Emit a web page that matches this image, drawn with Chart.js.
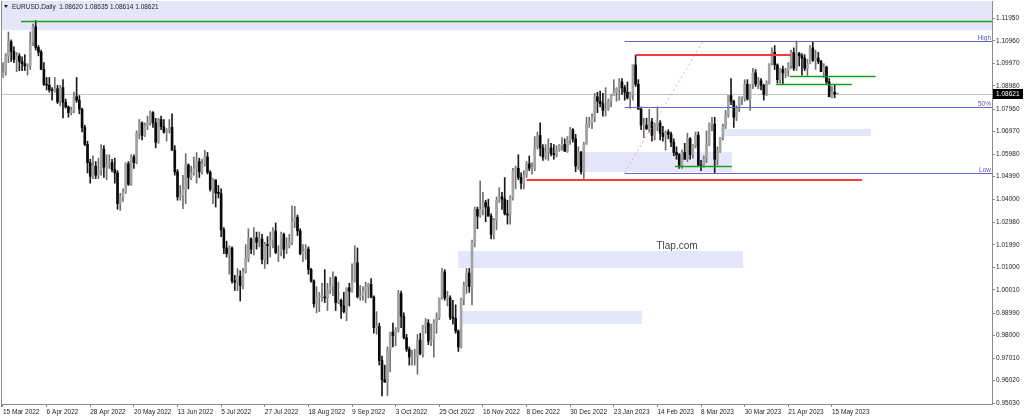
<!DOCTYPE html>
<html>
<head>
<meta charset="utf-8">
<script src="https://cdn.jsdelivr.net/npm/chart.js@4/dist/chart.umd.min.js"></script>
<style>
  html, body { margin: 0; padding: 0; background: #fff; }
</style>
</head>
<body>
<canvas id="chart" width="1024" height="418"></canvas>
<script>
// EURUSD daily, one bar per weekday from 15 Mar 2022 (index 0) to 17 May 2023
const opens = [
  1.0940,1.0955,1.1030,1.1092,1.1050,1.1015,1.1030,1.1005,1.0995,1.0985,
  1.0985,1.1090,1.1158,1.1067,1.1046,1.0970,1.0905,1.0901,1.0880,1.0877,
  1.0885,1.0827,1.0890,1.0825,1.0805,1.0780,1.0790,1.0850,1.0835,1.0795,
  1.0715,1.0640,1.0560,1.0500,1.0545,1.0505,1.0525,1.0620,1.0540,1.0550,
  1.0560,1.0530,1.0515,1.0380,1.0410,1.0435,1.0555,1.0465,1.0585,1.0560,
  1.0690,1.0735,1.0680,1.0725,1.0735,1.0780,1.0735,1.0650,1.0750,1.0718,
  1.0695,1.0705,1.0715,1.0615,1.0520,1.0410,1.0415,1.0445,1.0550,1.0495,
  1.0515,1.0535,1.0565,1.0520,1.0555,1.0585,1.0518,1.0443,1.0484,1.0427,
  1.0425,1.0265,1.0185,1.0160,1.0185,1.0040,1.0035,1.0060,1.0020,1.0080,
  1.0140,1.0225,1.0180,1.0230,1.0210,1.0225,1.0135,1.0200,1.0195,1.0220,
  1.0260,1.0165,1.0170,1.0245,1.0180,1.0195,1.0210,1.0300,1.0320,1.0260,
  1.0160,1.0170,1.0180,1.0090,1.0040,0.9940,0.9970,0.9970,0.9970,0.9965,
  1.0000,1.0015,1.0055,0.9945,0.9955,0.9930,0.9905,1.0010,0.9995,1.0040,
  1.0120,0.9970,0.9975,0.9995,1.0015,1.0025,0.9970,0.9835,0.9840,0.9690,
  0.9605,0.9595,0.9735,0.9815,0.9800,0.9825,0.9985,0.9885,0.9790,0.9740,
  0.9705,0.9705,0.9705,0.9780,0.9720,0.9840,0.9855,0.9775,0.9780,0.9860,
  0.9880,0.9965,1.0080,0.9965,0.9965,0.9880,0.9875,0.9820,0.9750,0.9960,
  1.0020,1.0075,1.0015,1.0210,1.0355,1.0325,1.0355,1.0385,1.0365,1.0325,
  1.0245,1.0305,1.0395,1.0410,1.0400,1.0335,1.0330,1.0405,1.0525,1.0535,
  1.0495,1.0470,1.0505,1.0555,1.0535,1.0535,1.0630,1.0680,1.0625,1.0585,
  1.0605,1.0625,1.0600,1.0595,1.0615,1.0635,1.0640,1.0610,1.0660,1.0705,
  1.0665,1.0545,1.0605,1.0520,1.0645,1.0730,1.0735,1.0760,1.0850,1.0830,
  1.0820,1.0790,1.0795,1.0830,1.0855,1.0870,1.0885,1.0915,1.0890,1.0870,
  1.0845,1.0860,1.0990,1.0905,1.0795,1.0725,1.0725,1.0710,1.0740,1.0680,
  1.0725,1.0735,1.0690,1.0675,1.0695,1.0685,1.0650,1.0605,1.0595,1.0545,
  1.0605,1.0575,1.0665,1.0595,1.0635,1.0680,1.0550,1.0545,1.0580,1.0640,
  1.0730,1.0730,1.0575,1.0610,1.0670,1.0720,1.0770,1.0855,1.0830,1.0760,
  1.0800,1.0845,1.0845,1.0905,1.0840,1.0905,1.0955,1.0905,1.0920,1.0900,
  1.0860,1.0910,1.0995,1.1045,1.0990,1.0925,1.0970,1.0955,1.0965,1.0990,
  1.1045,1.0975,1.1040,1.1030,1.1020,1.0975,1.0995,1.1065,1.1010,1.1020,
  1.1005,1.0960,1.0980,1.0915,1.0850,1.0870,1.08620
];
const highs = [
  1.1000,1.1040,1.1135,1.1100,1.1070,1.1045,1.1040,1.1025,1.1035,1.0995,
  1.1135,1.1170,1.1185,1.1075,1.1055,1.1000,1.0935,1.0935,1.0890,1.0935,
  1.0900,1.0900,1.0925,1.0840,1.0810,1.0805,1.0870,1.0935,1.0855,1.0800,
  1.0725,1.0655,1.0575,1.0590,1.0565,1.0580,1.0640,1.0635,1.0595,1.0595,
  1.0575,1.0580,1.0525,1.0425,1.0445,1.0560,1.0565,1.0595,1.0595,1.0700,
  1.0750,1.0740,1.0735,1.0765,1.0787,1.0785,1.0755,1.0755,1.0765,1.0750,
  1.0710,1.0750,1.0775,1.0635,1.0530,1.0460,1.0505,1.0600,1.0555,1.0545,
  1.0585,1.0605,1.0580,1.0575,1.0615,1.0605,1.0525,1.0490,1.0485,1.0460,
  1.0445,1.0275,1.0215,1.0195,1.0190,1.0065,1.0095,1.0085,1.0095,1.0200,
  1.0270,1.0230,1.0275,1.0255,1.0255,1.0245,1.0210,1.0235,1.0255,1.0275,
  1.0295,1.0195,1.0255,1.0250,1.0230,1.0245,1.0370,1.0368,1.0330,1.0270,
  1.0200,1.0200,1.0190,1.0095,1.0045,1.0015,0.9990,1.0030,1.0090,1.0030,
  1.0055,1.0080,1.0060,1.0035,0.9960,0.9990,1.0010,1.0030,1.0115,1.0195,
  1.0185,1.0020,1.0015,1.0035,1.0030,1.0050,0.9975,0.9905,0.9855,0.9710,
  0.9670,0.9750,0.9815,0.9855,0.9835,0.9999,0.9995,0.9900,0.9805,0.9750,
  0.9735,0.9740,0.9805,0.9810,0.9845,0.9875,0.9870,0.9850,0.9870,0.9900,
  0.9965,1.0095,1.0090,0.9995,0.9975,0.9955,0.9935,0.9825,0.9965,1.0035,
  1.0095,1.0095,1.0220,1.0365,1.0365,1.0480,1.0430,1.0395,1.0400,1.0335,
  1.0315,1.0410,1.0450,1.0430,1.0495,1.0395,1.0415,1.0535,1.0545,1.0595,
  1.0515,1.0525,1.0565,1.0590,1.0560,1.0675,1.0695,1.0735,1.0640,1.0640,
  1.0665,1.0645,1.0640,1.0635,1.0640,1.0670,1.0665,1.0675,1.0715,1.0710,
  1.0685,1.0630,1.0610,1.0650,1.0760,1.0760,1.0775,1.0865,1.0870,1.0875,
  1.0865,1.0890,1.0840,1.0860,1.0925,1.0890,1.0930,1.0930,1.0900,1.0915,
  1.0870,1.0990,1.1033,1.0925,1.0805,1.0755,1.0755,1.0795,1.0755,1.0735,
  1.0805,1.0745,1.0720,1.0700,1.0705,1.0695,1.0665,1.0630,1.0600,1.0615,
  1.0645,1.0690,1.0670,1.0640,1.0695,1.0695,1.0570,1.0590,1.0700,1.0735,
  1.0760,1.0760,1.0630,1.0670,1.0730,1.0790,1.0855,1.0930,1.0835,1.0810,
  1.0850,1.0850,1.0925,1.0925,1.0905,1.0975,1.0970,1.0935,1.0930,1.0905,
  1.0920,1.0995,1.1065,1.1075,1.0995,1.0975,1.0985,1.0975,1.1000,1.1055,
  1.1065,1.1095,1.1045,1.1040,1.1035,1.1015,1.1075,1.1092,1.1055,1.1045,
  1.1010,1.0995,1.0985,1.0930,1.0895,1.0905,1.08635
];
const lows = [
  1.0935,1.0945,1.1000,1.1005,1.1000,1.0960,1.0965,1.0965,1.0965,1.0945,
  1.0970,1.1075,1.1055,1.1030,1.0970,1.0900,1.0880,1.0870,1.0835,1.0870,
  1.0820,1.0810,1.0757,1.0800,1.0760,1.0770,1.0780,1.0825,1.0775,1.0695,
  1.0635,1.0515,1.0470,1.0490,1.0490,1.0490,1.0505,1.0495,1.0485,1.0535,
  1.0520,1.0470,1.0355,1.0350,1.0390,1.0425,1.0460,1.0460,1.0535,1.0555,
  1.0665,1.0660,1.0675,1.0705,1.0725,1.0715,1.0625,1.0645,1.0705,1.0690,
  1.0655,1.0690,1.0615,1.0505,1.0395,1.0395,1.0358,1.0380,1.0445,1.0485,
  1.0505,1.0470,1.0495,1.0510,1.0545,1.0510,1.0435,1.0380,1.0365,1.0405,
  1.0235,1.0160,1.0145,1.0070,1.0030,0.9998,0.9998,0.9952,1.0005,1.0075,
  1.0125,1.0160,1.0155,1.0180,1.0190,1.0115,1.0095,1.0115,1.0145,1.0185,
  1.0160,1.0125,1.0150,1.0140,1.0160,1.0185,1.0200,1.0275,1.0240,1.0155,
  1.0125,1.0135,1.0070,1.0035,0.9925,0.9900,0.9905,0.9950,0.9945,0.9910,
  0.9985,0.9975,0.9910,0.9940,0.9875,0.9900,0.9865,0.9930,0.9990,1.0035,
  0.9965,0.9955,0.9955,0.9945,0.9965,0.9965,0.9810,0.9805,0.9670,0.9535,
  0.9595,0.9535,0.9640,0.9750,0.9755,0.9815,0.9835,0.9785,0.9730,0.9670,
  0.9670,0.9670,0.9630,0.9715,0.9705,0.9810,0.9760,0.9755,0.9705,0.9810,
  0.9870,0.9960,0.9955,0.9930,0.9870,0.9850,0.9810,0.9730,0.9745,0.9935,
  0.9985,0.9990,0.9935,1.0190,1.0270,1.0320,1.0330,1.0300,1.0325,1.0225,
  1.0225,1.0265,1.0385,1.0355,1.0330,1.0290,1.0290,1.0395,1.0445,1.0485,
  1.0445,1.0445,1.0495,1.0525,1.0510,1.0525,1.0620,1.0590,1.0570,1.0575,
  1.0570,1.0590,1.0575,1.0585,1.0610,1.0615,1.0610,1.0605,1.0640,1.0650,
  1.0520,1.0530,1.0510,1.0484,1.0640,1.0715,1.0710,1.0740,1.0780,1.0805,
  1.0765,1.0765,1.0790,1.0805,1.0855,1.0830,1.0835,1.0860,1.0835,1.0840,
  1.0800,1.0835,1.0895,1.0795,1.0705,1.0670,1.0705,1.0695,1.0655,1.0660,
  1.0700,1.0660,1.0655,1.0615,1.0665,1.0630,1.0590,1.0575,1.0535,1.0535,
  1.0575,1.0565,1.0575,1.0580,1.0625,1.0545,1.0525,1.0540,1.0560,1.0635,
  1.0700,1.0516,1.0550,1.0605,1.0660,1.0710,1.0760,1.0815,1.0715,1.0745,
  1.0785,1.0815,1.0830,1.0835,1.0790,1.0885,1.0895,1.0885,1.0880,1.0835,
  1.0855,1.0905,1.0990,1.0970,1.0910,1.0910,1.0905,1.0935,1.0940,1.0975,
  1.0965,1.0965,1.0985,1.0945,1.0965,1.0940,1.0995,1.1005,1.0970,1.0995,
  1.0960,1.0935,1.0905,1.0850,1.0845,1.0845,1.08614
];
const closes = [
  1.0955,1.1030,1.1092,1.1050,1.1015,1.1030,1.1005,1.0995,1.0985,1.0985,
  1.1090,1.1158,1.1067,1.1046,1.0970,1.0905,1.0901,1.0880,1.0877,1.0885,
  1.0827,1.0890,1.0825,1.0805,1.0780,1.0790,1.0850,1.0835,1.0795,1.0715,
  1.0640,1.0560,1.0500,1.0545,1.0505,1.0525,1.0620,1.0540,1.0550,1.0560,
  1.0530,1.0515,1.0380,1.0410,1.0435,1.0555,1.0465,1.0585,1.0560,1.0690,
  1.0735,1.0680,1.0725,1.0735,1.0780,1.0735,1.0650,1.0750,1.0718,1.0695,
  1.0705,1.0715,1.0615,1.0520,1.0410,1.0415,1.0445,1.0550,1.0495,1.0515,
  1.0535,1.0565,1.0520,1.0555,1.0585,1.0518,1.0443,1.0484,1.0427,1.0425,
  1.0265,1.0185,1.0160,1.0185,1.0040,1.0035,1.0060,1.0020,1.0080,1.0140,
  1.0225,1.0180,1.0230,1.0210,1.0225,1.0135,1.0200,1.0195,1.0220,1.0260,
  1.0165,1.0170,1.0245,1.0180,1.0195,1.0210,1.0300,1.0320,1.0260,1.0160,
  1.0170,1.0180,1.0090,1.0040,0.9940,0.9970,0.9970,0.9970,0.9965,1.0000,
  1.0015,1.0055,0.9945,0.9955,0.9930,0.9905,1.0010,0.9995,1.0040,1.0120,
  0.9970,0.9975,0.9995,1.0015,1.0025,0.9970,0.9835,0.9840,0.9690,0.9605,
  0.9595,0.9735,0.9815,0.9800,0.9825,0.9985,0.9885,0.9790,0.9740,0.9705,
  0.9705,0.9705,0.9780,0.9720,0.9840,0.9855,0.9775,0.9780,0.9860,0.9880,
  0.9965,1.0080,0.9965,0.9965,0.9880,0.9875,0.9820,0.9750,0.9960,1.0020,
  1.0075,1.0015,1.0210,1.0355,1.0325,1.0355,1.0385,1.0365,1.0325,1.0245,
  1.0305,1.0395,1.0410,1.0400,1.0335,1.0330,1.0405,1.0525,1.0535,1.0495,
  1.0470,1.0505,1.0555,1.0535,1.0535,1.0630,1.0680,1.0625,1.0585,1.0605,
  1.0625,1.0600,1.0595,1.0615,1.0635,1.0640,1.0610,1.0660,1.0705,1.0665,
  1.0545,1.0605,1.0520,1.0645,1.0730,1.0735,1.0760,1.0850,1.0830,1.0820,
  1.0790,1.0795,1.0830,1.0855,1.0870,1.0885,1.0915,1.0890,1.0870,1.0845,
  1.0860,1.0990,1.0905,1.0795,1.0725,1.0725,1.0710,1.0740,1.0680,1.0725,
  1.0735,1.0690,1.0675,1.0695,1.0685,1.0650,1.0605,1.0595,1.0545,1.0605,
  1.0575,1.0665,1.0595,1.0635,1.0680,1.0550,1.0545,1.0580,1.0640,1.0730,
  1.0730,1.0575,1.0610,1.0670,1.0720,1.0770,1.0855,1.0830,1.0760,1.0800,
  1.0845,1.0845,1.0905,1.0840,1.0905,1.0955,1.0905,1.0920,1.0900,1.0860,
  1.0910,1.0995,1.1045,1.0990,1.0925,1.0970,1.0955,1.0965,1.0990,1.1045,
  1.0975,1.1040,1.1030,1.1020,1.0975,1.0995,1.1065,1.1010,1.1020,1.1005,
  1.0960,1.0980,1.0915,1.0850,1.0870,1.0862,1.08621
];

// axis ticks
const dateTicks = [0, 16, 32, 48, 64, 80, 96, 112, 128, 144, 160, 176, 192, 208, 224, 240, 256, 272, 288, 304];
const dateLabels = ['15 Mar 2022', '6 Apr 2022', '28 Apr 2022', '20 May 2022', '13 Jun 2022', '5 Jul 2022',
  '27 Jul 2022', '18 Aug 2022', '9 Sep 2022', '3 Oct 2022', '25 Oct 2022', '16 Nov 2022', '8 Dec 2022',
  '30 Dec 2022', '23 Jan 2023', '14 Feb 2023', '8 Mar 2023', '30 Mar 2023', '21 Apr 2023', '15 May 2023'];
const priceTicks = [1.11950, 1.10960, 1.09970, 1.08980, 1.07960, 1.06970, 1.05980, 1.04990, 1.04000,
  1.02980, 1.01990, 1.01000, 1.00010, 0.98990, 0.98000, 0.97010, 0.96020, 0.95030];

// drawn objects, in bar index / price
const zones = [ // [fromBar, toBar, upper, lower]
  [-1, 363, 1.1300, 1.1143],
  [213, 267.3, 1.0607, 1.0519],
  [263.7, 318.3, 1.0708, 1.0677],
  [166.9, 271.4, 1.0172, 1.0097],
  [167.6, 234.3, 0.9908, 0.9851]
];
const greenLevels = [[6.6, 363, 1.1185], [288.6, 320, 1.0942], [283.5, 311.3, 1.0905], [246.4, 267.3, 1.0547]];
const redLevels = [[232, 289, 1.1033], [192, 315, 1.0484]];
const fibLevels = [['High', 1.1095], ['50%', 1.08055], ['Low', 1.0516]];
const fibStart = 228, fibEnd = 256.7;
const bid = 1.08621;
const title = 'EURUSD,Daily  1.08620 1.08635 1.08614 1.08621';

const FONT = '"Liberation Sans", Arial, sans-serif';
Chart.defaults.font.family = FONT;

const bull = closes.map((c, i) => c >= opens[i]);

function hline(ctx, x0, x1, y, color, w) {
  ctx.strokeStyle = color;
  ctx.lineWidth = w;
  const yy = w % 2 ? Math.round(y) + 0.5 : Math.round(y);
  ctx.beginPath(); ctx.moveTo(x0, yy); ctx.lineTo(x1, yy); ctx.stroke();
}

const overlay = {
  id: 'overlay',
  beforeDatasetsDraw(chart) {
    const { ctx, chartArea: a, scales: { x, y } } = chart;
    ctx.save();
    ctx.beginPath(); ctx.rect(a.left, a.top, a.right - a.left, a.bottom - a.top); ctx.clip();
    ctx.fillStyle = '#e6e6fa';
    zones.forEach(([b0, b1, p0, p1]) => {
      const x0 = x.getPixelForValue(b0), x1 = x.getPixelForValue(b1);
      const y0 = y.getPixelForValue(p0), y1 = y.getPixelForValue(p1);
      ctx.fillRect(x0, y0, x1 - x0, y1 - y0);
    });
    hline(ctx, a.left, a.right, y.getPixelForValue(bid), '#c4c4c4', 1);
    ctx.restore();
  },
  afterDatasetsDraw(chart) {
    const { ctx, chartArea: a, scales: { x, y } } = chart;
    ctx.save();
    ctx.beginPath(); ctx.rect(a.left, a.top, a.right - a.left, a.bottom - a.top); ctx.clip();
    // fibo diagonal
    ctx.strokeStyle = '#f5a3a3';
    ctx.lineWidth = 1;
    ctx.setLineDash([2, 3]);
    ctx.beginPath();
    ctx.moveTo(x.getPixelForValue(fibStart), y.getPixelForValue(fibLevels[2][1]));
    ctx.lineTo(x.getPixelForValue(fibEnd), y.getPixelForValue(fibLevels[0][1]));
    ctx.stroke();
    ctx.setLineDash([]);
    fibLevels.forEach(([label, p]) => {
      const py = y.getPixelForValue(p);
      hline(ctx, x.getPixelForValue(fibStart), a.right, py, '#6464c8', 1);
      ctx.fillStyle = '#5a5ab4';
      ctx.font = '6.5px ' + FONT;
      ctx.textAlign = 'right';
      ctx.textBaseline = 'bottom';
      ctx.fillText(label, a.right - 1, Math.round(py));
    });
    redLevels.forEach(([b0, b1, p]) => hline(ctx, x.getPixelForValue(b0), x.getPixelForValue(b1), y.getPixelForValue(p), '#f23b3b', 2));
    greenLevels.forEach(([b0, b1, p]) => hline(ctx, x.getPixelForValue(b0), x.getPixelForValue(b1), y.getPixelForValue(p), '#18a018', 1.5));
    ctx.restore();
  },
  afterDraw(chart) {
    const { ctx, chartArea: a, scales: { y } } = chart;
    ctx.save();
    // left frame
    ctx.strokeStyle = '#8a8a8a';
    ctx.lineWidth = 1;
    ctx.beginPath(); ctx.moveTo(a.left + 0.5, a.top); ctx.lineTo(a.left + 0.5, a.bottom + 3); ctx.stroke();
    // title
    ctx.fillStyle = '#222';
    ctx.beginPath(); ctx.moveTo(4, 5); ctx.lineTo(8, 5); ctx.lineTo(6, 8); ctx.closePath(); ctx.fill();
    ctx.font = '6.5px ' + FONT;
    ctx.textAlign = 'left';
    ctx.textBaseline = 'middle';
    ctx.fillText(title, 12, 7);
    // watermark
    ctx.fillStyle = '#444';
    ctx.font = '10px ' + FONT;
    ctx.textAlign = 'center';
    ctx.fillText('Tlap.com', 677, 246);
    // bid price box
    const py = Math.round(y.getPixelForValue(bid));
    ctx.fillStyle = '#000';
    ctx.fillRect(a.right + 1, py - 5, 30, 10);
    ctx.fillStyle = '#fff';
    ctx.font = '6.5px ' + FONT;
    ctx.textAlign = 'left';
    ctx.fillText(bid.toFixed(5), a.right + 4, py);
    ctx.restore();
  }
};

new Chart(document.getElementById('chart'), {
  type: 'bar',
  data: {
    datasets: [
      {
        label: 'body',
        order: 0,
        data: opens.map((o, i) => ({ x: i, y: [o, closes[i]] })),
        backgroundColor: bull.map(b => b ? '#a3a3a3' : '#0a0a0a'),
        barThickness: 2,
        minBarLength: 1,
        grouped: false,
        borderWidth: 0
      },
      {
        label: 'wick',
        order: 1,
        data: lows.map((l, i) => ({ x: i, y: [l, highs[i]] })),
        backgroundColor: bull.map(b => b ? '#707070' : '#1a1a1a'),
        barThickness: 1,
        grouped: false,
        borderWidth: 0
      }
    ]
  },
  options: {
    responsive: false,
    animation: false,
    devicePixelRatio: 1,
    layout: { padding: { top: 1, left: 1, right: 0, bottom: 0 } },
    plugins: { legend: { display: false }, tooltip: { enabled: false } },
    scales: {
      x: {
        type: 'linear',
        offset: false,
        min: -0.73,
        max: 362.7,
        afterBuildTicks: s => { s.ticks = dateTicks.map(v => ({ value: v })); },
        afterFit: s => { s.height = 14; s.paddingLeft = 0; s.paddingRight = 0; },
        ticks: {
          autoSkip: false,
          maxRotation: 0,
          align: 'start',
          padding: 1,
          color: '#222',
          font: { size: 6.5 },
          callback: (v, i) => dateLabels[i]
        },
        grid: { drawOnChartArea: false, offset: false, tickLength: 3, color: '#8a8a8a' },
        border: { display: true, color: '#8a8a8a' }
      },
      y: {
        position: 'right',
        min: 0.9499,
        max: 1.1271,
        afterBuildTicks: s => { s.ticks = priceTicks.map(v => ({ value: v })); },
        afterFit: s => { s.width = 32; s.paddingTop = 0; s.paddingBottom = 0; },
        ticks: {
          padding: 1,
          color: '#222',
          font: { size: 6.5 },
          callback: v => v.toFixed(5)
        },
        grid: { drawOnChartArea: false, tickLength: 3, color: '#8a8a8a' },
        border: { display: true, color: '#8a8a8a' }
      }
    }
  },
  plugins: [overlay]
});
</script>
</body>
</html>
